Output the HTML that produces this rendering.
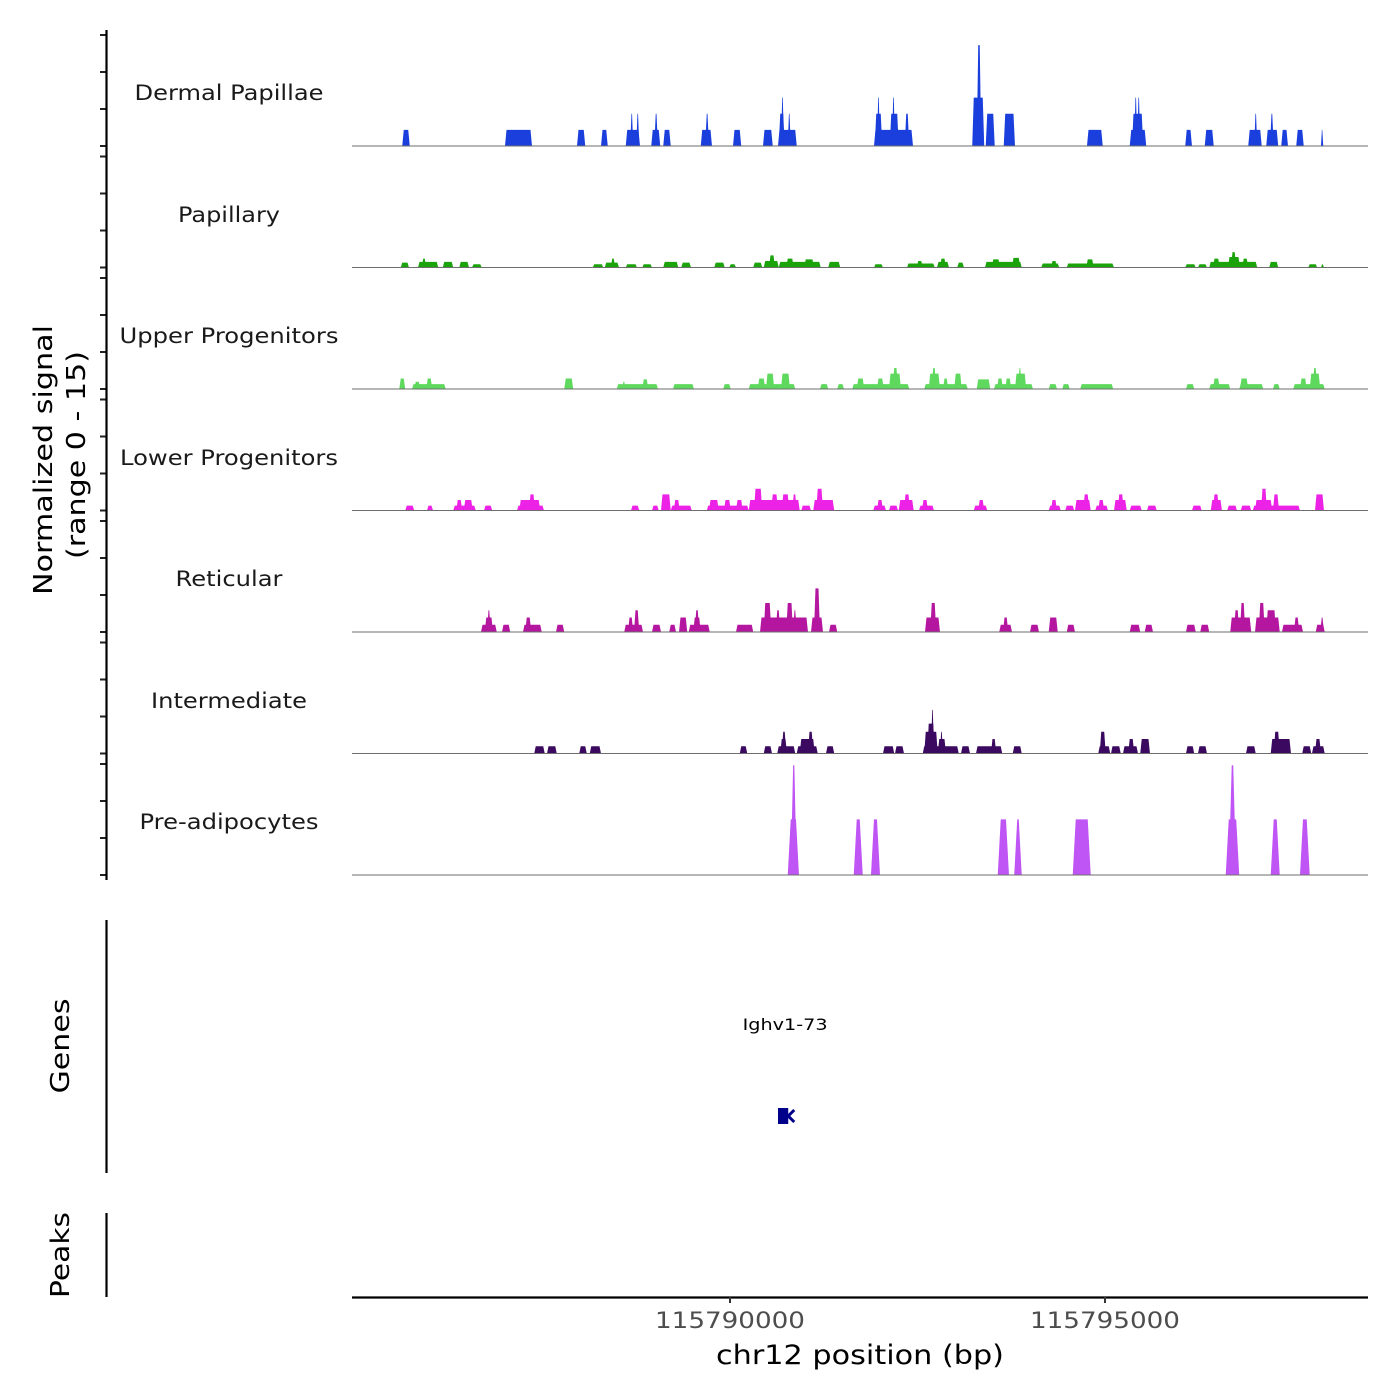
<!DOCTYPE html>
<html><head><meta charset="utf-8"><style>
html,body{margin:0;padding:0;background:#fff}
svg{display:block;font-family:"DejaVu Sans","Liberation Sans",sans-serif}
</style></head><body>
<svg id="chart" width="1400" height="1400" viewBox="0 0 1400 1400" xmlns="http://www.w3.org/2000/svg">
<g id="tracks"></g>
<g id="axes"></g>
</svg>
<script>
const regionStart = 115784960;
const regionEnd = 115798507;
const xTicks = [115790000, 115795000];
const xTickLabels = ["115790000", "115795000"];
const trackNames = ["Dermal Papillae","Papillary","Upper Progenitors","Lower Progenitors","Reticular","Intermediate","Pre-adipocytes"];
const trackColors = ["#1a3fdc","#1aa30b","#5ed95e","#ec23e6","#b5169f","#3b0a60","#bf55f5"];
const yTickValues = [0, 5, 10, 15];

const dermalSegs = [
[115785630,115785730,2],[115787000,115787360,2],[115787960,115788070,2],[115788280,115788370,2],
[115788610,115788800,2],[115788670,115788710,4],[115788750,115788790,4],[115788950,115789070,2],
[115788990,115789040,4],[115789110,115789210,2],[115789610,115789760,2],[115789670,115789720,4],
[115790040,115790150,2],[115790440,115790570,2],[115790640,115790890,2],[115790650,115790730,4],
[115790680,115790720,6],[115790770,115790810,4],[115791920,115792440,2],[115791930,115792030,4],
[115791960,115792000,6],[115792130,115792250,4],[115792160,115792200,6],[115792330,115792390,4],
[115793230,115793390,6],[115793290,115793350,12.5],[115793410,115793530,4],[115793650,115793800,4],
[115794760,115794970,2],[115795330,115795550,2],[115795360,115795510,4],[115795390,115795430,6],
[115795430,115795470,6],[115796070,115796160,2],[115796330,115796450,2],[115796910,115797090,2],
[115796990,115797030,4],[115797150,115797310,2],[115797200,115797250,4],[115797350,115797440,2],
[115797550,115797650,2],[115797880,115797910,2]];

const papillarySegs = [
[115785610,115785720,0.6],[115785840,115786110,0.7],[115785890,115785950,1.1],[115786170,115786310,0.7],
[115786390,115786520,0.7],[115786560,115786690,0.4],[115788170,115788310,0.4],[115788330,115788520,0.6],
[115788410,115788470,1.1],[115788610,115788760,0.4],[115788830,115788960,0.4],[115789110,115789310,0.7],
[115789350,115789480,0.6],[115789790,115789930,0.6],[115789990,115790080,0.4],[115790310,115790430,0.6],
[115790450,115790650,0.8],[115790520,115790600,1.5],[115790650,115791210,0.7],[115790750,115790850,1.1],
[115790990,115791120,1.0],[115791310,115791470,0.7],[115791920,115792040,0.4],[115792360,115792730,0.5],
[115792490,115792570,0.8],[115792760,115792920,0.7],[115792800,115792880,1.1],[115793030,115793120,0.6],
[115793400,115793890,0.7],[115793490,115793600,1.0],[115793760,115793870,1.2],[115794150,115794390,0.5],
[115794280,115794360,0.8],[115794490,115795120,0.5],[115794750,115794850,1.0],[115796070,115796210,0.4],
[115796240,115796360,0.4],[115796390,115797030,0.7],[115796440,115796530,1.1],[115796640,115796800,1.3],
[115796680,115796750,1.9],[115796830,115796910,1.1],[115797190,115797310,0.7],[115797710,115797830,0.4],
[115797880,115797920,0.4]];

const upperSegs = [
[115785590,115785670,1.3],[115785760,115786210,0.6],[115785790,115785870,0.9],[115785950,115786030,1.3],
[115787790,115787910,1.3],[115788490,115789040,0.6],[115788560,115788610,0.9],[115788830,115788910,1.2],
[115789240,115789520,0.6],[115789910,115790010,0.6],[115790250,115790870,0.6],[115790370,115790470,1.3],
[115790480,115790590,1.9],[115790680,115790800,1.9],[115791200,115791310,0.6],[115791430,115791520,0.6],
[115791630,115792390,0.6],[115791690,115791790,1.3],[115791960,115792050,1.3],[115792120,115792280,1.9],
[115792170,115792240,2.6],[115792590,115793170,0.6],[115792650,115792800,1.9],[115792690,115792750,2.6],
[115792840,115792910,1.3],[115792990,115793090,1.9],[115793290,115793470,1.2],[115793520,115794040,0.6],
[115793560,115793640,1.3],[115793670,115793750,1.3],[115793800,115793950,1.9],[115793840,115793890,2.6],
[115794250,115794360,0.6],[115794430,115794530,0.6],[115794670,115795110,0.6],[115796080,115796190,0.6],
[115796390,115796670,0.6],[115796440,115796530,1.3],[115796790,115797110,0.6],[115796800,115796910,1.3],
[115797240,115797330,0.6],[115797510,115797930,0.6],[115797600,115797690,1.3],[115797730,115797870,1.9],
[115797770,115797830,2.6]];

const lowerSegs = [
[115785670,115785790,0.6],[115785960,115786040,0.6],[115786310,115786610,0.6],[115786350,115786430,1.3],
[115786450,115786570,1.3],[115786720,115786830,0.6],[115787160,115787520,0.6],[115787190,115787470,1.3],
[115787320,115787400,2.0],[115788680,115788790,0.6],[115788960,115789050,0.6],[115789080,115789210,2.0],
[115789210,115789490,0.6],[115789250,115789330,1.3],[115789690,115790250,0.6],[115789720,115789850,1.3],
[115789920,115790010,1.3],[115790080,115790170,1.3],[115790250,115790930,1.3],[115790320,115790430,2.7],
[115790550,115790640,2.0],[115790690,115790790,2.0],[115790830,115790890,2.0],[115790950,115791080,0.6],
[115791110,115791390,1.3],[115791150,115791240,2.7],[115791910,115792080,0.6],[115791960,115792040,1.3],
[115792120,115792240,0.6],[115792250,115792450,1.3],[115792320,115792400,2.0],[115792520,115792720,0.6],
[115792560,115792640,1.3],[115793250,115793430,0.6],[115793310,115793390,1.3],[115794250,115794410,0.6],
[115794280,115794360,1.3],[115794470,115794590,0.6],[115794600,115794810,1.3],[115794710,115794790,2.0],
[115794870,115795040,0.6],[115794910,115794990,1.3],[115795120,115795290,1.3],[115795170,115795250,2.0],
[115795330,115795490,0.6],[115795560,115795690,0.6],[115796160,115796290,0.6],[115796410,115796560,1.3],
[115796440,115796520,2.0],[115796630,115796760,0.6],[115796810,115796950,0.6],[115796970,115797600,0.6],
[115797000,115797230,1.3],[115797080,115797160,2.7],[115797240,115797320,2.0],[115797800,115797920,2.0]];

const reticularSegs = [
[115786680,115786890,0.9],[115786730,115786840,1.8],[115786760,115786810,2.7],[115786960,115787070,0.9],
[115787240,115787490,0.9],[115787270,115787350,1.8],[115787680,115787790,0.9],[115788590,115788840,0.9],
[115788640,115788710,1.8],[115788720,115788790,2.7],[115788960,115789080,0.9],[115789190,115789280,0.9],
[115789320,115789430,1.8],[115789450,115789730,0.9],[115789510,115789610,1.8],[115789530,115789590,2.7],
[115790080,115790310,0.9],[115790400,115791040,1.8],[115790450,115790550,3.6],[115790750,115790840,3.6],
[115790840,115790890,2.7],[115790610,115790670,2.7],[115791080,115791240,1.8],[115791120,115791200,5.4],
[115791320,115791430,0.9],[115792600,115792800,1.8],[115792670,115792750,3.6],[115793590,115793760,0.9],
[115793640,115793710,1.8],[115794000,115794120,0.9],[115794250,115794370,1.8],[115794490,115794600,0.9],
[115795330,115795470,0.9],[115795530,115795640,0.9],[115796080,115796210,0.9],[115796270,115796390,0.9],
[115796670,115796950,1.8],[115796720,115796790,2.7],[115796800,115796870,3.6],[115797000,115797330,1.8],
[115797050,115797130,3.6],[115797150,115797280,2.7],[115797360,115797640,0.9],[115797520,115797590,1.8],
[115797810,115797930,0.9],[115797870,115797920,1.8]];

const intermediateSegs = [
[115787390,115787530,0.9],[115787560,115787690,0.9],[115787990,115788090,0.9],[115788130,115788280,0.9],
[115790130,115790230,0.9],[115790450,115790560,0.9],[115790630,115790870,0.9],[115790670,115790760,1.8],
[115790690,115790750,2.7],[115790890,115791170,0.9],[115790930,115791130,1.8],[115791040,115791110,2.7],
[115791280,115791390,0.9],[115792040,115792190,0.9],[115792200,115792320,0.9],[115792570,115793050,0.9],
[115792590,115792770,2.7],[115792630,115792730,3.7],[115792680,115792720,5.4],[115792770,115792880,1.8],
[115792800,115792840,2.7],[115793080,115793200,0.9],[115793280,115793630,0.9],[115793480,115793550,1.8],
[115793770,115793890,0.9],[115794910,115795070,0.9],[115794930,115795010,2.7],[115795080,115795210,0.9],
[115795240,115795440,0.9],[115795310,115795390,1.8],[115795470,115795600,1.8],[115796080,115796190,0.9],
[115796240,115796360,0.9],[115796880,115797010,0.9],[115797210,115797480,1.8],[115797250,115797330,2.7],
[115797630,115797750,0.9],[115797760,115797930,0.9],[115797800,115797880,1.8]];

const preadipSegs = [
[115790770,115790920,6.9],[115790810,115790890,13.6],[115791650,115791770,6.9],[115791880,115792000,6.9],
[115793570,115793720,6.9],[115793790,115793890,6.9],[115794570,115794810,6.9],[115796610,115796790,6.9],
[115796650,115796750,13.6],[115797210,115797330,6.9],[115797600,115797730,6.9]];

const allSegs = [dermalSegs, papillarySegs, upperSegs, lowerSegs, reticularSegs, intermediateSegs, preadipSegs];
const geneName = "Ighv1-73";
const geneStart = 115790640;
const geneEnd = 115790830;

const NS = "http://www.w3.org/2000/svg";
const plotLeft = 352, plotRight = 1368;
const baselines = [146, 267.5, 389, 510.5, 632, 753.5, 875];
const pxPerUnit = 8.07;
const tickPxPerUnit = 7.4;
function X(bp){ return plotLeft + (bp - regionStart) * (plotRight - plotLeft) / (regionEnd - regionStart); }
function Y(i, v){ return baselines[i] - v * pxPerUnit; }
function mk(tag, attrs, parent){ const e = document.createElementNS(NS, tag); for (const k in attrs) e.setAttribute(k, attrs[k]); parent.appendChild(e); return e; }

const tracksG = document.getElementById('tracks');
const axesG = document.getElementById('axes');
const labelY = [92, 214, 335, 457, 578, 700, 821];
const labelW = [189, 102, 219, 218, 107, 156, 179];

allSegs.forEach((segs, i) => {
  const g = mk('g', {}, tracksG);
  
  
  const slantMax = i === 6 ? 3 : 1.5;
  segs.forEach(s => {
    const x0 = X(s[0]), x1 = X(s[1]);
    const sl = Math.min(slantMax, (x1 - x0) / 2.5);
    const yb = baselines[i], yt = Y(i, s[2]);
    const p = mk('polygon', {points: `${x0},${yb} ${x0+sl},${yt} ${x1-sl},${yt} ${x1},${yb}`, fill: trackColors[i]}, g);
    
    
  });
  const bl = mk('line', {x1: plotLeft, x2: plotRight, y1: baselines[i], y2: baselines[i], stroke: '#6e6e6e', 'stroke-width': 1}, g);
  
  
  const t = mk('text', {x: 229, y: labelY[i] + 8, 'text-anchor': 'middle', 'font-size': 21, fill: '#1a1a1a', textLength: labelW[i], lengthAdjust: 'spacingAndGlyphs'}, g);
  t.textContent = trackNames[i];
  
  
  yTickValues.forEach(v => {
    const ty = baselines[i] - v * tickPxPerUnit;
    const tk = mk('line', {x1: 100, x2: 106, y1: ty, y2: ty, stroke: '#222', 'stroke-width': 2}, axesG);
    
    
  });
});

[[30, 880, 'signal-axis-line'], [920, 1173, 'genes-axis-line'], [1213, 1297, 'peaks-axis-line']].forEach(a => {
  const l = mk('line', {x1: 106.5, x2: 106.5, y1: a[0], y2: a[1], stroke: '#000', 'stroke-width': 2.2}, axesG);
  
  
});

const yt1 = mk('text', {x: 0, y: 0, transform: 'translate(52,460) rotate(-90)', 'text-anchor': 'middle', 'font-size': 26, fill: '#000', textLength: 270, lengthAdjust: 'spacingAndGlyphs'}, axesG);
yt1.textContent = 'Normalized signal';


const yt2 = mk('text', {x: 0, y: 0, transform: 'translate(85,455) rotate(-90)', 'text-anchor': 'middle', 'font-size': 26, fill: '#000', textLength: 208, lengthAdjust: 'spacingAndGlyphs'}, axesG);
yt2.textContent = '(range 0 - 15)';


const gt = mk('text', {x: 0, y: 0, transform: 'translate(69,1046) rotate(-90)', 'text-anchor': 'middle', 'font-size': 26, fill: '#000', textLength: 95, lengthAdjust: 'spacingAndGlyphs'}, axesG);
gt.textContent = 'Genes';


const pt = mk('text', {x: 0, y: 0, transform: 'translate(69,1255) rotate(-90)', 'text-anchor': 'middle', 'font-size': 26, fill: '#000', textLength: 86, lengthAdjust: 'spacingAndGlyphs'}, axesG);
pt.textContent = 'Peaks';



const gx0 = X(geneStart), gx1 = X(geneEnd);
const gl = mk('text', {x: (gx0 + gx1) / 2, y: 1030, 'text-anchor': 'middle', 'font-size': 16, fill: '#000', textLength: 85, lengthAdjust: 'spacingAndGlyphs'}, axesG);
gl.textContent = geneName;


const gr = mk('rect', {x: gx0, y: 1108, width: gx1 - gx0 - 4, height: 16, fill: '#00008b'}, axesG);


const ga = mk('polyline', {points: `${gx1+2},1110 ${gx1-4},1116 ${gx1+2},1122`, fill: 'none', stroke: '#00008b', 'stroke-width': 3}, axesG);



const xa = mk('line', {x1: plotLeft, x2: plotRight, y1: 1297.5, y2: 1297.5, stroke: '#000', 'stroke-width': 2.2}, axesG);


xTicks.forEach((t, k) => {
  const tl = mk('line', {x1: X(t), x2: X(t), y1: 1297, y2: 1303, stroke: '#333', 'stroke-width': 2}, axesG);
  
  
  const tx = mk('text', {x: X(t), y: 1328, 'text-anchor': 'middle', 'font-size': 22, fill: '#4d4d4d', textLength: 150, lengthAdjust: 'spacingAndGlyphs'}, axesG);
  tx.textContent = xTickLabels[k];
  
  
});
const xt = mk('text', {x: 860, y: 1364, 'text-anchor': 'middle', 'font-size': 27, fill: '#000', textLength: 288, lengthAdjust: 'spacingAndGlyphs'}, axesG);
xt.textContent = 'chr12 position (bp)';


</script>
</body></html>
